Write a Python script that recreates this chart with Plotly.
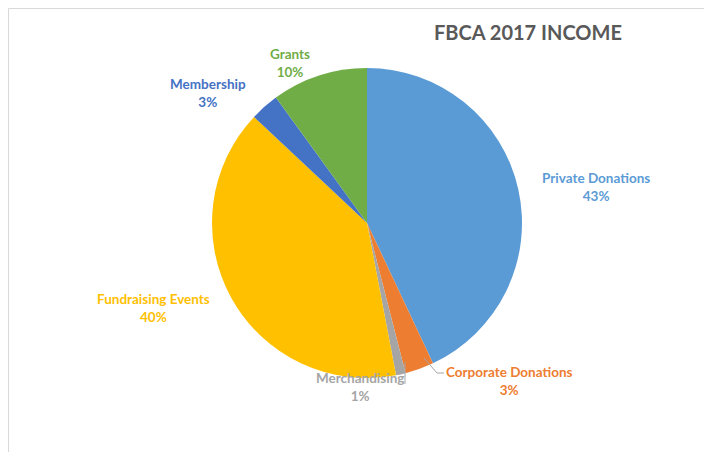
import plotly.graph_objects as go

# ---- data ----
labels = ["Private Donations", "Corporate Donations", "Merchandising",
          "Fundraising Events", "Membership", "Grants"]
values = [43, 3, 1, 40, 3, 10]
colors = ["#5B9BD5", "#ED7D31", "#A5A5A5", "#FFC000", "#4472C4", "#70AD47"]
title_text = "FBCA 2017 INCOME"

# ---- layout helpers (page pixel positions; page body has an 8px margin) ----
OFF = 8
W, H = 712 - OFF, 452 - OFF
label_pos = [(596, 187), (510, 381), (360, 387), (153, 308), (208, 93), (290, 63)]

def px(x):
    return (x - OFF) / W

def py(y):
    return 1 - (y - OFF) / H

cx, cy, diam = 367, 223, 310

fig = go.Figure(go.Pie(
    labels=labels,
    values=values,
    sort=False,
    direction="clockwise",
    rotation=0,
    marker=dict(colors=colors, line=dict(width=0)),
    textinfo="none",
    hoverinfo="label+percent",
    showlegend=False,
    domain=dict(x=[px(cx - diam / 2), px(cx + diam / 2)],
                y=[py(cy + diam / 2), py(cy - diam / 2)]),
))

total = sum(values)
annotations = []
for lab, val, col, (x, y) in zip(labels, values, colors, label_pos):
    annotations.append(dict(
        x=px(x), y=py(y), xref="paper", yref="paper",
        text=f"<b>{lab}<br>{round(100 * val / total)}%</b>",
        showarrow=False, xanchor="center", yanchor="middle",
        font=dict(family="Lato", size=13.5, color=col),
        align="center",
    ))
annotations.append(dict(
    x=px(528), y=py(32), xref="paper", yref="paper",
    text=f"<b>{title_text}</b>", showarrow=False,
    xanchor="center", yanchor="middle",
    font=dict(family="Lato", size=20, color="#595959"),
))

shapes = [
    # chart frame (left and top edges visible)
    dict(type="rect", xref="paper", yref="paper",
         x0=px(OFF + 0.5), x1=px(712 + 5), y0=py(452 + 5), y1=py(OFF + 0.5),
         line=dict(color="#D9D9D9", width=1)),
    # leader line: Corporate Donations
    dict(type="path", xref="paper", yref="paper",
         path=f"M {px(424)},{py(358)} L {px(437)},{py(373)} L {px(444)},{py(373)}",
         line=dict(color="#A6A6A6", width=1)),
    # leader line: Merchandising
    dict(type="line", xref="paper", yref="paper",
         x0=px(405), x1=px(405), y0=py(362), y1=py(384),
         line=dict(color="#A6A6A6", width=1)),
]

fig.update_layout(
    width=W, height=H,
    margin=dict(l=0, r=0, t=0, b=0),
    paper_bgcolor="white",
    plot_bgcolor="white",
    annotations=annotations,
    shapes=shapes,
)

fig.write_html("out.html")
